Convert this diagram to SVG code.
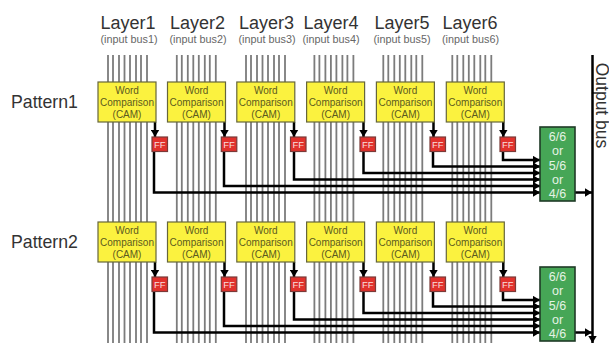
<svg xmlns="http://www.w3.org/2000/svg" width="609" height="343" viewBox="0 0 609 343">
<style>
text{font-family:"Liberation Sans",Arial,sans-serif;text-anchor:middle}
.layer{font-size:18px;fill:#333}
.sub{font-size:10.8px;fill:#666}
.pat{font-size:17.7px;fill:#333}
.bus{stroke:#7c7c7c;stroke-width:1.8;fill:none}
.cam rect{fill:#fbf23f;stroke:#66663a;stroke-width:1.2}
.cam text{font-size:10px;fill:#5c5a20}
.ff rect{fill:#e0322d;stroke:#7a3a38;stroke-width:1.2}
.ff text{font-size:9.5px;fill:#f8dede}
.vote rect{fill:#46a656;stroke:#1f3a26;stroke-width:1.6}
.vote text{font-size:12.5px;fill:#e4f3e4}
.wire path{stroke:#000;stroke-width:2.5;fill:none;marker-end:url(#a)}
</style>
<defs>
<marker id="a" markerUnits="userSpaceOnUse" markerWidth="9" markerHeight="9" refX="7.500" refY="4.500" orient="auto"><path d="M0 0L7.500 4.500L0 9Z" fill="#000"/></marker>
<path id="b" d="M0 55V343M5 55V343M11 55V343M16.500 55V343M22 55V343M28 55V343M33 55V343M39 55V343" class="bus"/>
</defs>
<g id="buses">
<use href="#b" x="108"/><use href="#b" x="176.800"/><use href="#b" x="246"/><use href="#b" x="314.400"/><use href="#b" x="383.300"/><use href="#b" x="452.300"/>
</g>
<g id="labels">
<text class="layer" x="128" y="29">Layer1</text><text class="sub" x="129" y="43">(input bus1)</text>
<text class="layer" x="197.500" y="29">Layer2</text><text class="sub" x="198" y="43">(input bus2)</text>
<text class="layer" x="266.500" y="29">Layer3</text><text class="sub" x="267" y="43">(input bus3)</text>
<text class="layer" x="331" y="29">Layer4</text><text class="sub" x="331" y="43">(input bus4)</text>
<text class="layer" x="402" y="29">Layer5</text><text class="sub" x="402" y="43">(input bus5)</text>
<text class="layer" x="470" y="29">Layer6</text><text class="sub" x="470.500" y="43">(input bus6)</text>
<text class="pat" x="44.500" y="107.500">Pattern1</text>
<text class="pat" x="44.500" y="247.500">Pattern2</text>
<text transform="translate(596,105.500) rotate(90)" font-size="17.500" fill="#333">Output bus</text>
</g>
<g id="connectors" class="wire">
<path d="M155 122V137"/><path d="M224.500 122V137"/><path d="M294 122V137"/><path d="M363.500 122V137"/><path d="M433.500 122V137"/><path d="M503.300 122V137"/>
<path d="M154 151V192.500H540"/><path d="M224 151V186H540"/><path d="M294 151V179.500H540"/><path d="M363.500 151V173H540"/><path d="M433 151V166.500H540"/><path d="M503 151V160H540"/>
<path d="M575 192.500H592"/>
<path d="M155 262V277"/><path d="M224.500 262V277"/><path d="M294 262V277"/><path d="M363.500 262V277"/><path d="M433.500 262V277"/><path d="M503.300 262V277"/>
<path d="M154 291V332.500H540"/><path d="M224 291V326H540"/><path d="M294 291V319.500H540"/><path d="M363.500 291V313H540"/><path d="M433 291V306.500H540"/><path d="M503 291V300H540"/>
<path d="M575 332.500H592"/>
<path d="M592.500 55V343"/>
</g>
<g id="cam1-1" class="cam" transform="translate(98,82)"><rect width="58" height="40"/><text x="29" y="12">Word</text><text x="29" y="24">Comparison</text><text x="29" y="36">(CAM)</text></g>
<g id="cam1-2" class="cam" transform="translate(167.500,82)"><rect width="58" height="40"/><text x="29" y="12">Word</text><text x="29" y="24">Comparison</text><text x="29" y="36">(CAM)</text></g>
<g id="cam1-3" class="cam" transform="translate(236.800,82)"><rect width="58" height="40"/><text x="29" y="12">Word</text><text x="29" y="24">Comparison</text><text x="29" y="36">(CAM)</text></g>
<g id="cam1-4" class="cam" transform="translate(306.600,82)"><rect width="58" height="40"/><text x="29" y="12">Word</text><text x="29" y="24">Comparison</text><text x="29" y="36">(CAM)</text></g>
<g id="cam1-5" class="cam" transform="translate(376.400,82)"><rect width="58" height="40"/><text x="29" y="12">Word</text><text x="29" y="24">Comparison</text><text x="29" y="36">(CAM)</text></g>
<g id="cam1-6" class="cam" transform="translate(446.300,82)"><rect width="58" height="40"/><text x="29" y="12">Word</text><text x="29" y="24">Comparison</text><text x="29" y="36">(CAM)</text></g>
<g id="cam2-1" class="cam" transform="translate(98,222)"><rect width="58" height="40"/><text x="29" y="12">Word</text><text x="29" y="24">Comparison</text><text x="29" y="36">(CAM)</text></g>
<g id="cam2-2" class="cam" transform="translate(167.500,222)"><rect width="58" height="40"/><text x="29" y="12">Word</text><text x="29" y="24">Comparison</text><text x="29" y="36">(CAM)</text></g>
<g id="cam2-3" class="cam" transform="translate(236.800,222)"><rect width="58" height="40"/><text x="29" y="12">Word</text><text x="29" y="24">Comparison</text><text x="29" y="36">(CAM)</text></g>
<g id="cam2-4" class="cam" transform="translate(306.600,222)"><rect width="58" height="40"/><text x="29" y="12">Word</text><text x="29" y="24">Comparison</text><text x="29" y="36">(CAM)</text></g>
<g id="cam2-5" class="cam" transform="translate(376.400,222)"><rect width="58" height="40"/><text x="29" y="12">Word</text><text x="29" y="24">Comparison</text><text x="29" y="36">(CAM)</text></g>
<g id="cam2-6" class="cam" transform="translate(446.300,222)"><rect width="58" height="40"/><text x="29" y="12">Word</text><text x="29" y="24">Comparison</text><text x="29" y="36">(CAM)</text></g>
<g id="ff1-1" class="ff" transform="translate(152,137)"><rect width="15.500" height="14.500"/><text x="7.750" y="10.800">FF</text></g>
<g id="ff1-2" class="ff" transform="translate(221.300,137)"><rect width="15.500" height="14.500"/><text x="7.750" y="10.800">FF</text></g>
<g id="ff1-3" class="ff" transform="translate(290.500,137)"><rect width="15.500" height="14.500"/><text x="7.750" y="10.800">FF</text></g>
<g id="ff1-4" class="ff" transform="translate(360,137)"><rect width="15.500" height="14.500"/><text x="7.750" y="10.800">FF</text></g>
<g id="ff1-5" class="ff" transform="translate(430,137)"><rect width="15.500" height="14.500"/><text x="7.750" y="10.800">FF</text></g>
<g id="ff1-6" class="ff" transform="translate(500,137)"><rect width="15.500" height="14.500"/><text x="7.750" y="10.800">FF</text></g>
<g id="ff2-1" class="ff" transform="translate(152,277)"><rect width="15.500" height="14.500"/><text x="7.750" y="10.800">FF</text></g>
<g id="ff2-2" class="ff" transform="translate(221.300,277)"><rect width="15.500" height="14.500"/><text x="7.750" y="10.800">FF</text></g>
<g id="ff2-3" class="ff" transform="translate(290.500,277)"><rect width="15.500" height="14.500"/><text x="7.750" y="10.800">FF</text></g>
<g id="ff2-4" class="ff" transform="translate(360,277)"><rect width="15.500" height="14.500"/><text x="7.750" y="10.800">FF</text></g>
<g id="ff2-5" class="ff" transform="translate(430,277)"><rect width="15.500" height="14.500"/><text x="7.750" y="10.800">FF</text></g>
<g id="ff2-6" class="ff" transform="translate(500,277)"><rect width="15.500" height="14.500"/><text x="7.750" y="10.800">FF</text></g>
<g id="vote1" class="vote" transform="translate(540,127)"><rect width="35" height="74"/><text x="17.500" y="14">6/6</text><text x="17.500" y="28">or</text><text x="17.500" y="42.500">5/6</text><text x="17.500" y="56.500">or</text><text x="17.500" y="71">4/6</text></g>
<g id="vote2" class="vote" transform="translate(540,267)"><rect width="35" height="74"/><text x="17.500" y="14">6/6</text><text x="17.500" y="28">or</text><text x="17.500" y="42.500">5/6</text><text x="17.500" y="56.500">or</text><text x="17.500" y="71">4/6</text></g>
</svg>
